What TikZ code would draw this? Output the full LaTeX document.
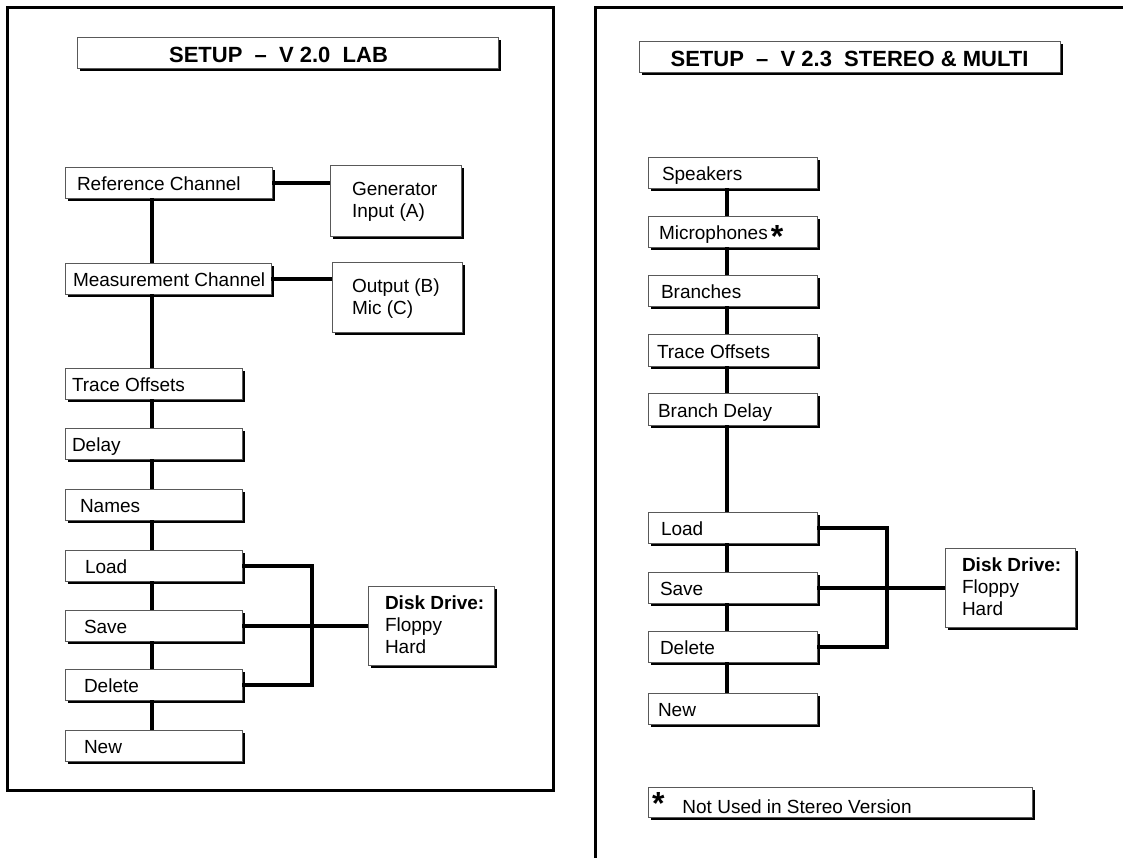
\documentclass[tikz,border=0pt]{standalone}
\usepackage{fontspec}
\setmainfont{Liberation Sans}
\usetikzlibrary{shadows}
\def\bxal{l}
\def\bxrs{-4pt}
\newcommand\mybox[8][]{%
  \pgfmathsetmacro\bxw{#4-#2}\pgfmathsetmacro\bxh{#5-#3}%
  \pgfmathsetmacro\bxt{#4-#2-2*#6}%
  \pgfmathsetmacro\bxcx{(#2+#4)/2}\pgfmathsetmacro\bxcy{(#3+#5)/2}%
  \node[box,#1,minimum width=\bxw pt,minimum height=\bxh pt,inner xsep=#6pt] (#7) at (\bxcx,\bxcy)
    {\raisebox{\bxrs}[\height][\depth]{\makebox[\bxt pt][\bxal]{\begin{tabular}{@{}l@{}}#8\end{tabular}}}};}
\newcommand\bigstar[1][-8pt]{{\bfseries\fontsize{32}{32}\selectfont\raisebox{#1}[0pt][0pt]{*}}}
\begin{document}
\begin{tikzpicture}[x=1pt,y=-1pt,
  bxalign/.code={\def\bxal{#1}},
  bxraise/.code={\def\bxrs{#1}},
  box/.style={draw=black!65,line width=0.9pt,fill=white,inner ysep=0pt,
    font=\fontsize{19}{22}\selectfont,
    drop shadow={shadow xshift=3pt,shadow yshift=-3pt,fill=black,opacity=1}},
  multi/.style={bxraise=-2pt},
  titlebox/.style={bxalign=c,bxraise=-5pt,font=\fontsize{22}{26}\selectfont\bfseries},
  conn/.style={line width=4pt,black},
  frame/.style={line width=3pt,black}]
\useasboundingbox (0,0) rectangle (1123,857);
% frames
\draw[frame] (7,7) rectangle (553,790);
\draw[frame] (595,860) -- (595,7) -- (1126,7);
% ---------- left panel ----------
\mybox[titlebox]{77}{37}{498}{68}{5}{t1}{SETUP\ \ –\ \ V 2.0\ \ LAB\hspace*{18pt}}
\mybox{65}{167}{272}{198}{12}{ref}{Reference Channel}
\mybox[multi]{330}{165}{461}{236}{22}{gen}{Generator\\Input (A)}
\mybox{65}{263}{271}{294}{8}{meas}{Measurement Channel}
\mybox[multi]{332}{262}{462}{332}{20}{out}{Output (B)\\Mic (C)}
\mybox{65}{368}{242}{399}{7}{trace}{Trace Offsets}
\mybox{65}{428}{242}{459}{7}{delay}{Delay}
\mybox{65}{489}{242}{520}{15}{names}{Names}
\mybox{65}{550}{242}{581}{20}{load}{Load}
\mybox{65}{610}{242}{641}{19}{save}{Save}
\mybox{65}{669}{242}{700}{19}{delete}{Delete}
\mybox{65}{730}{242}{761}{19}{new}{New}
\mybox[multi]{368}{586}{494}{665}{17}{disk}{\textbf{Disk Drive:}\\Floppy\\Hard}
\coordinate (ls) at (152,0);
\coordinate (lb) at (312,0);
\foreach \a/\b in {ref/meas,meas/trace,trace/delay,delay/names,names/load,load/save,save/delete,delete/new}
  \draw[conn] (\a.south -| ls) -- (\b.north -| ls);
\draw[conn] (ref.east) -- (ref.east -| gen.west);
\draw[conn] (meas.east) -- (meas.east -| out.west);
\draw[conn] (load.east) -- (load.east -| lb) -- (delete.east -| lb) -- (delete.east);
\draw[conn] (save.east) -- (save.east -| disk.west);
% ---------- right panel ----------
\mybox[titlebox]{639}{41}{1060}{72}{5}{t2}{SETUP\ \ –\ \ V 2.3\ \ STEREO \& MULTI}
\mybox{648}{157}{817}{188}{14}{spk}{Speakers}
\mybox{648}{216}{817}{247}{11}{mic}{Microphones\,\bigstar}
\mybox{648}{275}{817}{306}{13}{bra}{Branches}
\mybox{648}{334}{817}{366}{9}{trace2}{Trace Offsets}
\mybox{648}{393}{817}{425}{10}{bdel}{Branch Delay}
\mybox{648}{512}{817}{543}{13}{load2}{Load}
\mybox{648}{572}{817}{603}{12}{save2}{Save}
\mybox{648}{631}{817}{662}{12}{del2}{Delete}
\mybox{648}{693}{817}{724}{10}{new2}{New}
\mybox[multi]{945}{548}{1075}{627}{17}{disk2}{\textbf{Disk Drive:}\\Floppy\\Hard}
\mybox[bxraise=-7pt]{648}{787}{1032}{817}{4}{note}{\bigstar[-1pt]\hspace{18pt}Not Used in Stereo Version}
\coordinate (rs) at (727,0);
\coordinate (rb) at (887,0);
\foreach \a/\b in {spk/mic,mic/bra,bra/trace2,trace2/bdel,bdel/load2,load2/save2,save2/del2,del2/new2}
  \draw[conn] (\a.south -| rs) -- (\b.north -| rs);
\draw[conn] (load2.east) -- (load2.east -| rb) -- (del2.east -| rb) -- (del2.east);
\draw[conn] (save2.east) -- (save2.east -| disk2.west);
\end{tikzpicture}
\end{document}
